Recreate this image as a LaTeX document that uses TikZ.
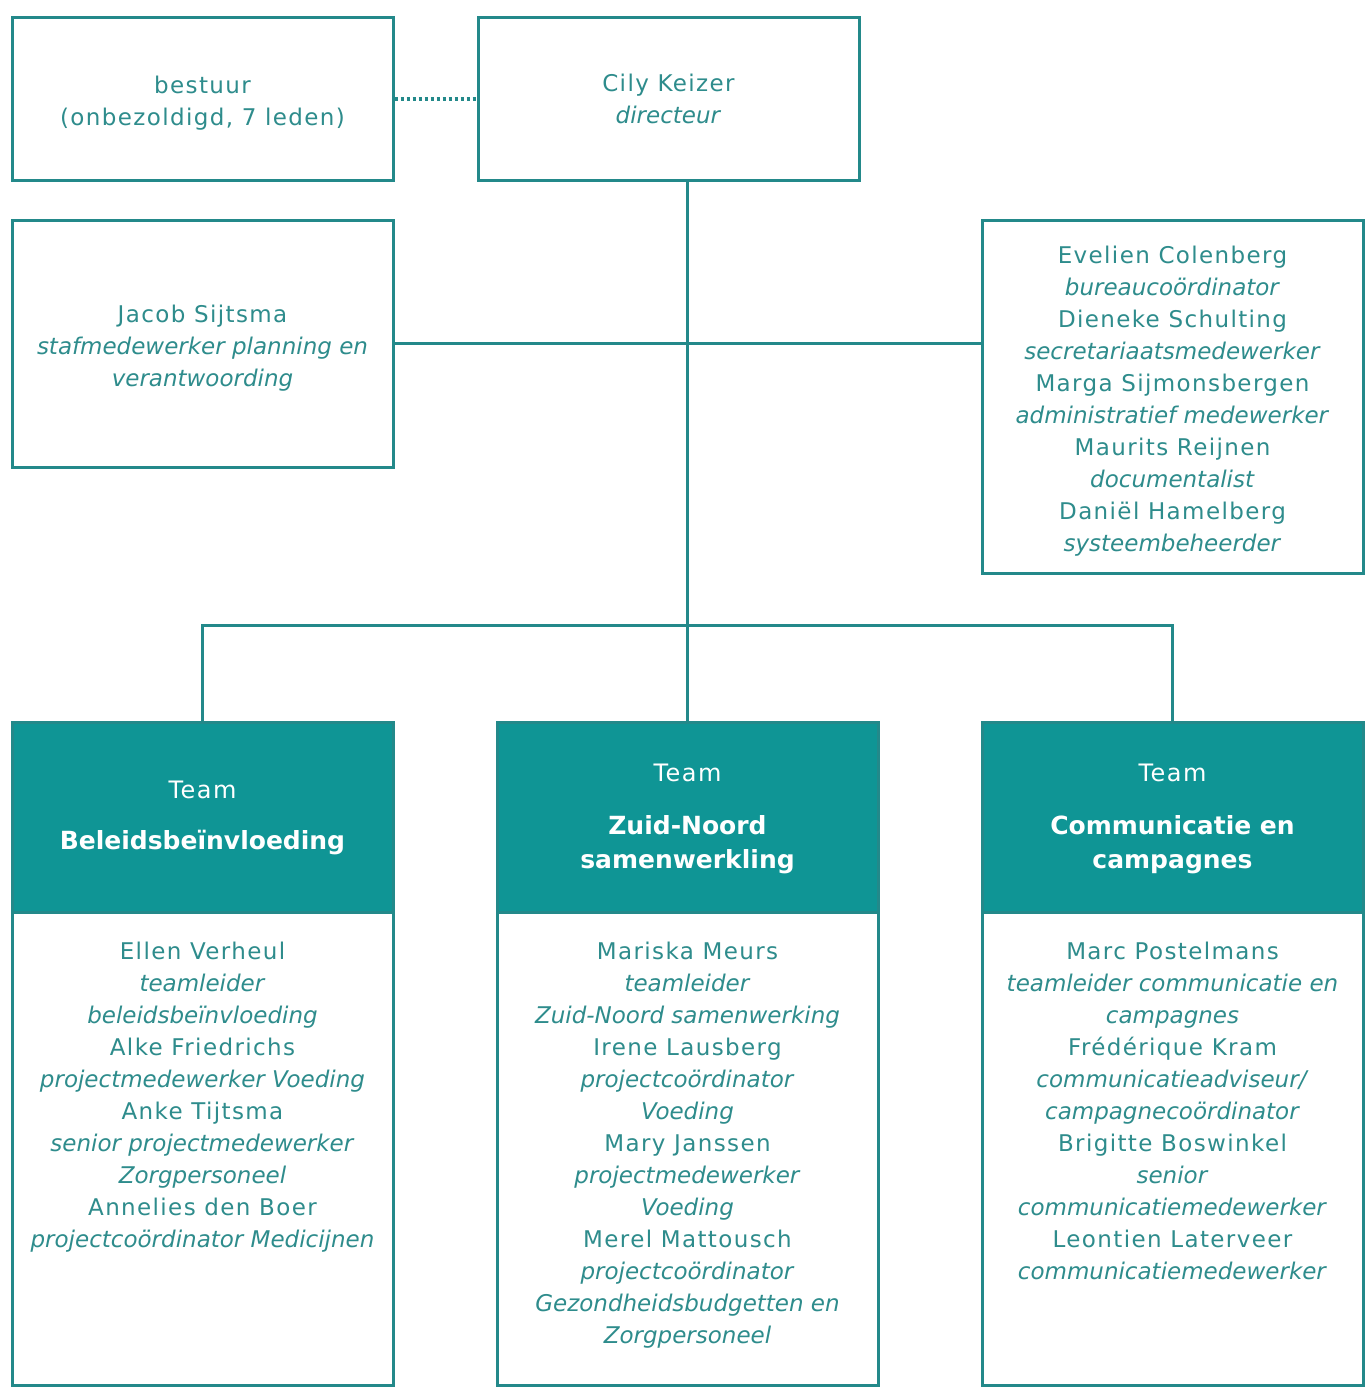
\documentclass[tikz,border=0pt]{standalone}
\usepackage{fontspec}
\setmainfont{DejaVu Sans}[UprightFeatures={LetterSpace=6}]
\definecolor{lineteal}{HTML}{23898A}
\definecolor{txtteal}{HTML}{2E8C8C}
\definecolor{headfill}{HTML}{0F9595}
\newcommand{\topfill}{\rule{0pt}{26pt}}
\begin{document}
\begin{tikzpicture}[x=1pt,y=-1pt,
  box/.style={draw=lineteal,line width=3pt,fill=white,minimum width=381pt,inner sep=0pt,
    text=txtteal,align=center,font=\fontsize{23}{32}\selectfont},
  headbox/.style={draw=lineteal,line width=3pt,fill=headfill,minimum width=381pt,minimum height=190pt,inner sep=0pt},
  bodybox/.style={draw=lineteal,line width=3pt,fill=white,minimum width=381pt,minimum height=473pt,inner sep=0pt},
  bodytxt/.style={text=txtteal,align=center,font=\fontsize{23}{32}\selectfont,inner sep=0pt},
  teamtxt/.style={text=white,font=\fontsize{24}{34}\selectfont,inner sep=0pt},
  teamname/.style={text=white,align=center,font=\fontsize{25}{34}\selectfont\bfseries,inner sep=0pt},
  conn/.style={draw=lineteal,line width=3pt},
  dotconn/.style={draw=lineteal,line width=4pt,dash pattern=on 3pt off 3pt}
]
\fill[white] (0,0) rectangle (1368,1387);
\useasboundingbox (0,0) rectangle (1368,1387);

% top boxes
\node[box,minimum height=163pt] (bestuur) at (202.5,98.5) {\topfill bestuur\\(onbezoldigd, 7 leden)};
\node[box,minimum height=163pt] (cily) at (668.5,98.5) {Cily Keizer\\\textit{directeur}};
\node[box,minimum height=247pt] (jacob) at (202.5,343.5) {\topfill Jacob Sijtsma\\\textit{stafmedewerker planning en}\\\textit{verantwoording}};
\node[box,minimum height=353pt] (staff) at (1172.5,396.5) {\topfill Evelien Colenberg\\\textit{bureaucoördinator}\\Dieneke Schulting\\\textit{secretariaatsmedewerker}\\Marga Sijmonsbergen\\\textit{administratief medewerker}\\Maurits Reijnen\\\textit{documentalist}\\Daniël Hamelberg\\\textit{systeembeheerder}};

% team bodies
\node[bodybox] (bL) at (202.5,1148.5) {};
\node[bodybox] (bM) at (687.5,1148.5) {};
\node[bodybox] (bR) at (1172.5,1148.5) {};
% team headers
\node[headbox] (hL) at (202.5,817) {};
\node[headbox] (hM) at (687.5,817) {};
\node[headbox] (hR) at (1172.5,817) {};

\node[teamtxt] (tL) at (202.5,790) {Team};
\node[teamname] (nL) at (202.5,843) {Beleidsbeïnvloeding};
\node[teamtxt] (tM) at (687.5,773) {Team};
\node[teamname] (nM) at (687.5,845) {Zuid-Noord\\samenwerkling};
\node[teamtxt] (tR) at (1172.5,773) {Team};
\node[teamname] (nR) at (1172.5,845) {Communicatie en\\campagnes};

% team member texts
\node[bodytxt] (mL) at (202.5,1097) {Ellen Verheul\\\textit{teamleider}\\\textit{beleidsbeïnvloeding}\\Alke Friedrichs\\\textit{projectmedewerker Voeding}\\Anke Tijtsma\\\textit{senior projectmedewerker}\\\textit{Zorgpersoneel}\\Annelies den Boer\\\textit{projectcoördinator Medicijnen}};
\node[bodytxt] (mM) at (687.5,1145) {Mariska Meurs\\\textit{teamleider}\\\textit{Zuid-Noord samenwerking}\\Irene Lausberg\\\textit{projectcoördinator}\\\textit{Voeding}\\Mary Janssen\\\textit{projectmedewerker}\\\textit{Voeding}\\Merel Mattousch\\\textit{projectcoördinator}\\\textit{Gezondheidsbudgetten en}\\\textit{Zorgpersoneel}};
\node[bodytxt] (mR) at (1172.5,1111) {Marc Postelmans\\\textit{teamleider communicatie en}\\\textit{campagnes}\\Frédérique Kram\\\textit{communicatieadviseur/}\\\textit{campagnecoördinator}\\Brigitte Boswinkel\\\textit{senior}\\\textit{communicatiemedewerker}\\Leontien Laterveer\\\textit{communicatiemedewerker}};

% connectors
\coordinate (bus) at (687.5,625);
\draw[dotconn] (bestuur.east) -- (cily.west);
\draw[conn] (hM.north |- cily.south) -- (hM.north);
\draw[conn] (jacob.east) -- (jacob.east -| staff.west);
\draw[conn] (hL.north) |- (bus) -| (hR.north);
\end{tikzpicture}
\end{document}
